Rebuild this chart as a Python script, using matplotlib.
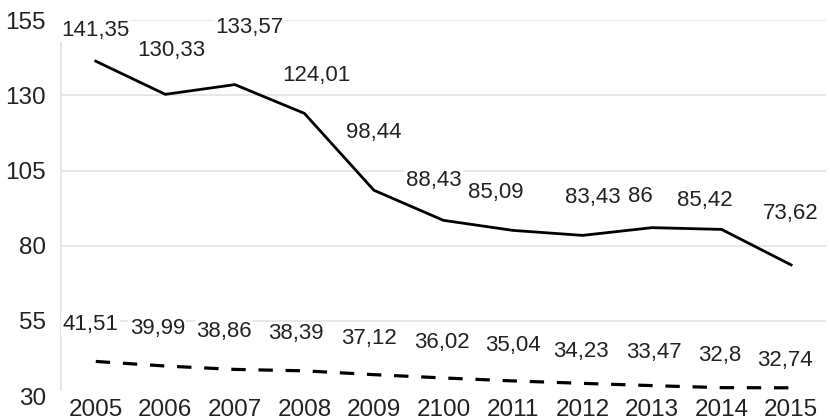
import matplotlib
matplotlib.use("Agg")
import matplotlib.pyplot as plt

# Données
annees = ["2005", "2006", "2007", "2008", "2009", "2100", "2011", "2012", "2013", "2014", "2015"]
serie_haute = [141.35, 130.33, 133.57, 124.01, 98.44, 88.43, 85.09, 83.43, 86, 85.42, 73.62]
serie_basse = [41.51, 39.99, 38.86, 38.39, 37.12, 36.02, 35.04, 34.23, 33.47, 32.8, 32.74]
graduations = [30, 55, 80, 105, 130, 155]

# Décalages des étiquettes (pixels)
dx_haut = [0, 6, 14, 12, 0, -10, -17, 10, -12, -17, 0]
dy_haut = [31, 44, 57, 38, 58, 40, 38, 38, 31, 29, 51]
dx_bas = [-5, -8, -11, -9, -5, -2, 0, -2, 2, -2, -6]
dy_bas = [37, 38, 38, 37, 36, 35, 35, 32, 33, 32, 27]

plt.rcParams['font.family'] = ['Liberation Sans', 'DejaVu Sans']

fig = plt.figure(figsize=(8.3, 4.2), dpi=100)
ax = fig.add_axes([0.0735, 0.057, 0.9215, 0.895])

x = list(range(len(annees)))
ax.plot(x, serie_haute, color='black', lw=2.0, solid_joinstyle='round', zorder=2)
ax.plot(x, serie_basse, color='black', lw=2.3, linestyle=(0, (4.5, 4.0)), zorder=2)

def etiquette(v):
    return f"{v:g}".replace('.', ',')

boite = dict(facecolor='white', edgecolor='none', pad=1)
for i, v in enumerate(serie_haute):
    ax.annotate(etiquette(v), (i, v), xytext=(dx_haut[i], dy_haut[i]),
                textcoords='offset pixels', ha='center', va='center',
                fontsize=16, color='#222222', bbox=boite, zorder=4)
for i, v in enumerate(serie_basse):
    ax.annotate(etiquette(v), (i, v), xytext=(dx_bas[i], dy_bas[i]),
                textcoords='offset pixels', ha='center', va='center',
                fontsize=16, color='#222222', bbox=boite, zorder=4)

ax.set_xlim(-0.5, len(annees) - 0.5)
ax.set_ylim(30, 155)
ax.set_yticks(graduations)
ax.set_xticks(x)
ax.set_xticklabels(annees)

ax.grid(axis='y', color='#e3e3e3', lw=1.2, zorder=0)
ax.set_axisbelow(True)
ax.yaxis.get_gridlines()[0].set_visible(False)

for s in ['top', 'right', 'bottom']:
    ax.spines[s].set_visible(False)
ax.spines['left'].set_color('#e3e3e3')
ax.spines['left'].set_linewidth(1.2)
ax.spines['left'].set_bounds(32, 155)

ax.tick_params(axis='both', length=0, labelsize=17.5, colors='#222222')
ax.tick_params(axis='y', pad=11)
ax.tick_params(axis='x', pad=2)

fig.savefig("out.png", dpi=100)
